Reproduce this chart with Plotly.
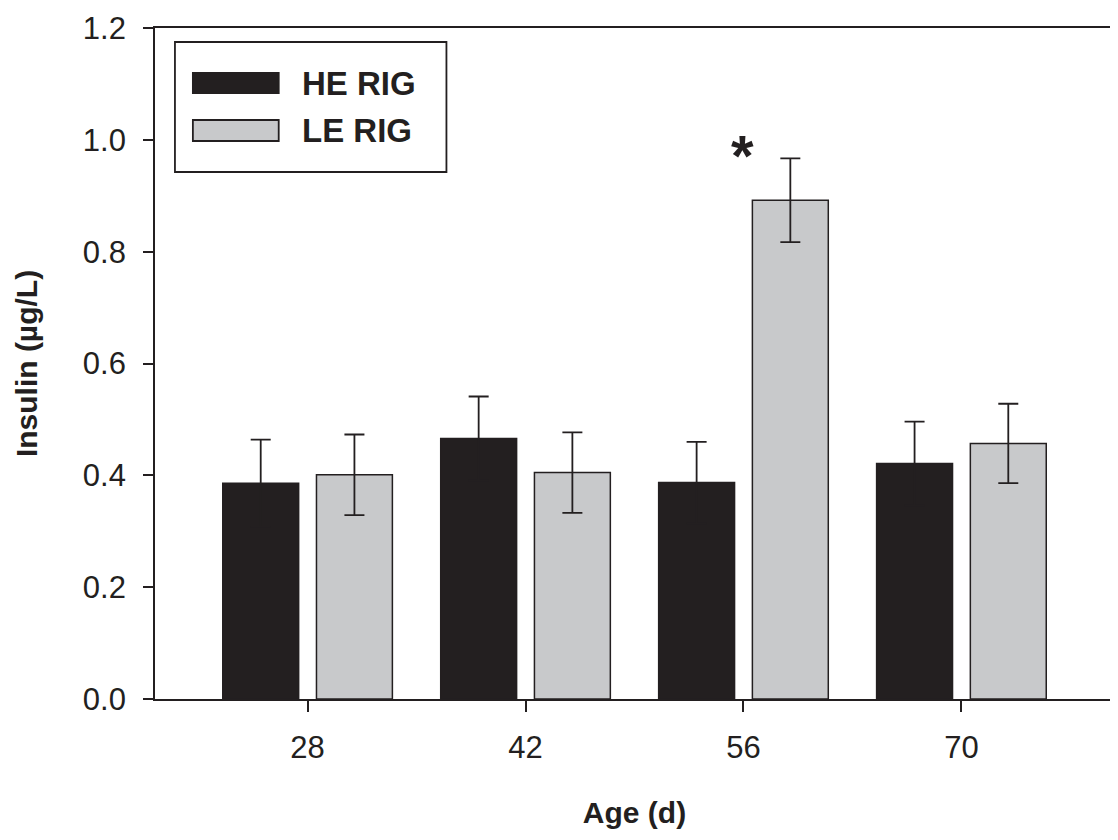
import plotly.graph_objects as go

categories = ["28", "42", "56", "70"]
series_names = ["HE RIG", "LE RIG"]
he_values = [0.386, 0.466, 0.387, 0.421]
he_errors = [0.078, 0.075, 0.073, 0.075]
le_values = [0.401, 0.405, 0.892, 0.457]
le_errors = [0.072, 0.072, 0.075, 0.071]
y_ticks = [0.0, 0.2, 0.4, 0.6, 0.8, 1.0, 1.2]
star_label = "*"

DARK = "#231f20"
GREY = "#c8c9cb"
FONT = "Liberation Sans, Arial, sans-serif"

fig = go.Figure()
for name, vals, errs, color in [
    (series_names[0], he_values, he_errors, DARK),
    (series_names[1], le_values, le_errors, GREY),
]:
    fig.add_trace(go.Bar(
        name=name, x=categories, y=vals,
        marker=dict(color=color, line=dict(color=DARK, width=1.5)),
        error_y=dict(type="data", array=errs, visible=True, color=DARK,
                     thickness=1.8, width=10),
        showlegend=False,
    ))

# manual legend (box + swatches + labels)
fig.add_shape(type="rect", xref="paper", yref="paper", x0=0.0208, x1=0.3039,
              y0=0.7854, y1=0.9791, line=dict(color=DARK, width=1.8),
              fillcolor="white")
for i, (name, color) in enumerate([(series_names[0], DARK), (series_names[1], GREY)]):
    y0 = [0.9031, 0.8316][i]
    y1 = [0.9329, 0.8629][i]
    fig.add_shape(type="rect", xref="paper", yref="paper", x0=0.0395, x1=0.129,
                  y0=y0, y1=y1, line=dict(color=DARK, width=1.8), fillcolor=color)
    fig.add_annotation(xref="paper", yref="paper", x=0.151, y=(y0 + y1) / 2,
                       text=f"<b>{name}</b>", showarrow=False, xanchor="left",
                       yanchor="middle",
                       font=dict(family=FONT, size=33, color=DARK))

# significance star
fig.add_annotation(x=1.995, y=0.972, xref="x", yref="y", text=f"<b>{star_label}</b>",
                   showarrow=False, font=dict(family=FONT, size=58, color=DARK),
                   yanchor="middle")

fig.update_layout(
    width=1110, height=832,
    margin=dict(l=147, r=2, t=20, b=141),
    paper_bgcolor="white", plot_bgcolor="white",
    barmode="group", bargap=0.14, bargroupgap=0.19,
    font=dict(family=FONT, color=DARK),
)
fig.update_xaxes(
    range=[-0.7, 3.7], showline=True, linecolor=DARK, linewidth=1.8, mirror=True,
    ticks="outside", ticklen=11, tickwidth=1.5, tickcolor=DARK,
    ticklabelstandoff=9,
    tickfont=dict(size=31, family=FONT, color=DARK),
    title=dict(text="<b>Age (d)</b>", font=dict(size=30, family=FONT, color=DARK),
               standoff=38),
    showgrid=False, zeroline=False,
)
fig.update_yaxes(
    range=[0, 1.2], tickvals=y_ticks, tickformat=".1f",
    showline=True, linecolor=DARK, linewidth=1.8, mirror=True,
    ticks="outside", ticklen=10, tickwidth=1.5, tickcolor=DARK,
    ticklabelstandoff=11,
    tickfont=dict(size=31, family=FONT, color=DARK),
    title=dict(text="<b>Insulin (µg/L)</b>", font=dict(size=30, family=FONT, color=DARK),
               standoff=36),
    showgrid=False, zeroline=False,
)

fig.write_html("out.html")
